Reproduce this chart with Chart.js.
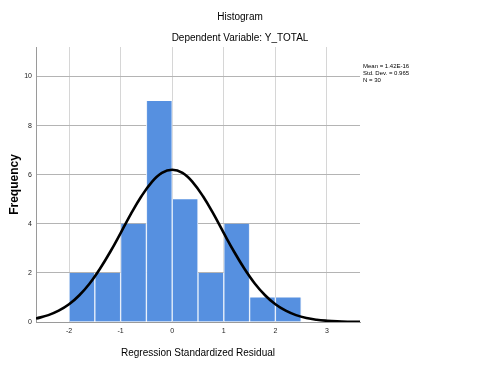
<!DOCTYPE html>
<html>
<head>
<meta charset="utf-8">
<script src="https://cdn.jsdelivr.net/npm/chart.js@4.4.0/dist/chart.umd.min.js"></script>
<style>
  html, body { margin: 0; padding: 0; background: #ffffff; }
  #wrap { width: 480px; height: 368px; position: relative; }
</style>
</head>
<body>
<div id="wrap"><canvas id="c" width="480" height="368"></canvas></div>
<script>
// ---- data ----
const binCenters = [-1.75, -1.25, -0.75, -0.25, 0.25, 0.75, 1.25, 1.75, 2.25];
const frequencies = [2, 2, 4, 9, 5, 2, 4, 1, 1];
const curveX = [-2.64, -2.4, -2.2, -2.0, -1.8, -1.6, -1.4, -1.2, -1.0, -0.8, -0.6, -0.4, -0.2, 0,
                0.2, 0.4, 0.6, 0.8, 1.0, 1.2, 1.4, 1.6, 1.8, 2.0, 2.2, 2.4, 2.6, 2.8, 3.0, 3.2, 3.4, 3.64];
const curveY = [0.14, 0.28, 0.46, 0.72, 1.09, 1.57, 2.17, 2.86, 3.62, 4.40, 5.11, 5.69, 6.07, 6.20,
                6.07, 5.69, 5.11, 4.40, 3.62, 2.86, 2.17, 1.57, 1.09, 0.72, 0.46, 0.28, 0.16, 0.09, 0.05, 0.025, 0.012, 0.005];
const xTicks = [-2, -1, 0, 1, 2, 3];
const yTicks = [0, 2, 4, 6, 8, 10];
const titleText = 'Histogram';
const subtitleText = 'Dependent Variable: Y_TOTAL';
const statsLines = ['Mean = 1.42E-16', 'Std. Dev. = 0.965', 'N = 30'];
const xTitle = 'Regression Standardized Residual';
const yTitle = 'Frequency';

const FONT = "'Liberation Sans Narrow', 'Liberation Sans', Arial, sans-serif";

const textPlugin = {
  id: 'spssText',
  afterDraw(chart) {
    const ctx = chart.ctx;
    ctx.save();
    ctx.fillStyle = '#000';
    ctx.textAlign = 'center';
    ctx.textBaseline = 'middle';
    ctx.font = '10px ' + FONT;
    ctx.fillText(titleText, 240, 17);
    ctx.fillText(subtitleText, 240, 38);
    ctx.textAlign = 'left';
    ctx.font = '6px ' + FONT;
    statsLines.forEach((s, i) => ctx.fillText(s, 363, 66 + i * 7));
    ctx.restore();
  }
};

new Chart(document.getElementById('c'), {
  type: 'bar',
  data: {
    datasets: [
      {
        type: 'line',
        data: curveX.map((x, i) => ({ x: x, y: curveY[i] })),
        borderColor: '#000000',
        borderWidth: 2.6,
        pointRadius: 0,
        tension: 0.4,
        fill: false,
        order: 0
      },
      {
        type: 'bar',
        data: binCenters.map((x, i) => ({ x: x, y: frequencies[i] })),
        backgroundColor: '#5690e0',
        borderColor: '#e8f0fb',
        borderWidth: { left: 1, right: 1, top: 0, bottom: 0 },
        barPercentage: 1,
        categoryPercentage: 1,
        order: 1
      }
    ]
  },
  options: {
    responsive: false,
    animation: false,
    layout: { padding: { top: 47, right: 120, left: 0, bottom: 0 } },
    plugins: { legend: { display: false }, tooltip: { enabled: false } },
    scales: {
      x: {
        type: 'linear',
        min: -2.64,
        max: 3.64,
        offset: false,
        afterFit(scale) { scale.height = 46; },
        afterBuildTicks(scale) { scale.ticks = xTicks.map(v => ({ value: v })); },
        grid: { color: '#d6d6d6', lineWidth: 1, drawTicks: false, offset: false },
        border: { color: '#9a9a9a', width: 1 },
        ticks: { font: { family: FONT, size: 7 }, color: '#222', padding: 5, maxRotation: 0 },
        title: { display: true, text: xTitle, font: { family: FONT, size: 10 }, color: '#000', padding: { top: 0, bottom: 9 } }
      },
      y: {
        min: 0,
        max: 11.2,
        afterFit(scale) { scale.width = 36; },
        afterBuildTicks(scale) { scale.ticks = yTicks.map(v => ({ value: v })); },
        grid: { color: '#b4b4b4', lineWidth: 1, drawTicks: false },
        border: { color: '#9a9a9a', width: 1 },
        ticks: { font: { family: FONT, size: 7 }, color: '#222', padding: 4 },
        title: { display: true, text: yTitle, font: { family: "'Liberation Sans', Arial, sans-serif", size: 12, weight: 'bold' }, color: '#000', padding: { top: 7, bottom: 0 } }
      }
    }
  },
  plugins: [textPlugin]
});
</script>
</body>
</html>
